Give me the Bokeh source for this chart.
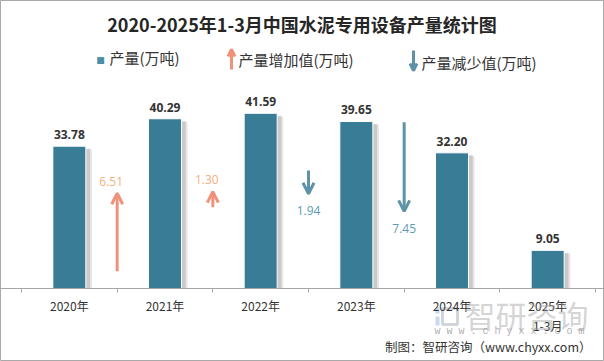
from bokeh.plotting import figure
from bokeh.models import Range1d, FixedTicker, ColumnDataSource, Label, Arrow, OpenHead
from bokeh.core.properties import value
from bokeh.embed import file_html
from bokeh.resources import INLINE

# ---------------- data ----------------
years = ["2020年", "2021年", "2022年", "2023年", "2024年", "2025年\n1-3月"]
output = [33.78, 40.29, 41.59, 39.65, 32.20, 9.05]          # 产量(万吨)
title_text = "2020-2025年1-3月中国水泥专用设备产量统计图"
legend_labels = ["产量(万吨)", "产量增加值(万吨)", "产量减少值(万吨)"]
source_note = "制图：智研咨询（www.chyxx.com）"
watermark_cn = "智研咨询"
watermark_en = "w w w . c h y x x . c o m"

# year-on-year change between the full years (2020-2024)
changes = [round(b - a, 2) for a, b in zip(output[:4], output[1:5])]

# ---------------- layout / style ----------------
W, H = 604, 361
AX_LEFT, AX_RIGHT, AX_Y = 21, 595, 288   # axis placement on the canvas (px)
PX_PER_UNIT = 4.213
BAR_COLOR = "#387c95"
UP_COLOR = "#f0917a"
UP_TEXT = "#f4b07c"
DOWN_COLOR = "#5e92a7"
DOWN_TEXT = "#5b9bb5"
ARROW_SCALE = 2.84                      # arrow length per unit of change
arrow_tip = [22.6, 23.0, 22.5, 18.3]    # where each arrow head sits

n = len(years)
centers = [i + 0.5 for i in range(n)]
band = (AX_RIGHT - AX_LEFT) / n
def X(px):  # canvas pixel -> data x
    return (px - AX_LEFT) / band
def Y(py):  # canvas pixel -> data y
    return (AX_Y - py) / PX_PER_UNIT

p = figure(width=W, height=H, output_backend="svg", toolbar_location=None,
           x_range=Range1d(X(0), X(W)), y_range=Range1d(Y(H), Y(0)),
           min_border=0)
p.outline_line_color = "#a9a9a9"
p.outline_line_width = 1
p.grid.visible = False
p.yaxis.visible = False
p.background_fill_color = "white"
p.border_fill_color = "white"

# watermark logo (behind everything)
p.quad(left=[X(435)], right=[X(439)], bottom=[Y(313)], top=[Y(307)],
       fill_color="#b9d0e8", line_color=None, fill_alpha=0.8)
p.quad(left=[X(435)], right=[X(439)], bottom=[Y(325)], top=[Y(316)],
       fill_color="#b9d0e8", line_color=None, fill_alpha=0.8)
p.quad(left=[X(442)], right=[X(457)], bottom=[Y(324)], top=[Y(308)],
       fill_color=None, line_color="#c5ccd4", line_width=3, line_alpha=0.8)

# x axis, fixed at zero inside the canvas
ax = p.xaxis[0]
ax.fixed_location = 0
ax.ticker = FixedTicker(ticks=centers, minor_ticks=list(range(n + 1)))
ax.major_label_overrides = {c: y for c, y in zip(centers, years)}
ax.major_tick_line_color = None
ax.major_tick_out = 0
ax.major_tick_in = 0
ax.minor_tick_line_color = "#a6a6a6"
ax.minor_tick_out = 4
ax.minor_tick_in = 0
ax.axis_line_color = "#a6a6a6"
ax.major_label_text_font = "Noto Sans CJK SC"
ax.major_label_text_font_size = "12px"
ax.major_label_text_color = "#333333"
ax.major_label_standoff = 4

# bars with soft shadow
src = ColumnDataSource(dict(
    x=centers, top=output,
    xs1=[c + 0.045 for c in centers], ts1=[v - 0.6 for v in output],
    xs2=[c + 0.065 for c in centers], ts2=[v - 0.8 for v in output],
    lbl=[f"{v:.2f}" for v in output]))
p.vbar(x="xs2", top="ts2", width=0.345, source=src, fill_color="#d9d9d9", line_color=None, fill_alpha=0.6)
p.vbar(x="xs1", top="ts1", width=0.345, source=src, fill_color="#bdbdbd", line_color=None, fill_alpha=0.7)
p.vbar(x="x", top="top", width=0.345, source=src, fill_color=BAR_COLOR, line_color="white", line_width=1)
p.text(x="x", y="top", text="lbl", source=src, text_align="center", text_baseline="bottom",
       y_offset=-7, text_font=value("Open Sans"), text_font_style="bold",
       text_font_size="12px", text_color="#333333")

# change arrows at category boundaries
for i, c in enumerate(changes):
    xb = i + 1
    tip = arrow_tip[i]
    up = c > 0
    start = tip - ARROW_SCALE * c if up else tip + ARROW_SCALE * abs(c)
    col = UP_COLOR if up else DOWN_COLOR
    asrc = ColumnDataSource(dict(x0=[xb], y0=[start], x1=[xb], y1=[tip]))
    p.add_layout(Arrow(x_start="x0", y_start="y0", x_end="x1", y_end="y1", source=asrc,
                       line_color=col, line_width=3,
                       end=OpenHead(size=11, line_color=col, line_width=3)))
    tsrc = ColumnDataSource(dict(x=[xb], y=[tip], t=[f"{abs(c):.2f}"]))
    p.text(x="x", y="y", text="t", source=tsrc, text_align="center", text_baseline="middle",
           x_offset=-6 if up else 0, y_offset=-12 if up else 17,
           text_font=value("Open Sans"), text_font_size="12px",
           text_color=UP_TEXT if up else DOWN_TEXT)

# title
p.add_layout(Label(x=X(301.5), y=Y(23), text=title_text, text_align="center", text_baseline="middle",
                   text_font="Noto Sans CJK SC", text_font_style="bold", text_font_size="18px",
                   text_color="#262626"))

# legend
p.add_layout(Label(x=X(100), y=Y(59), text="■", text_align="center", text_baseline="middle",
                   text_font="DejaVu Sans", text_font_size="9px", text_color="#4b8fa6"))
p.add_layout(Label(x=X(109), y=Y(57), text=legend_labels[0], text_align="left", text_baseline="middle",
                   text_font="Noto Sans CJK SC", text_font_size="15px", text_color="#333333"))
lu = ColumnDataSource(dict(x0=[X(231)], y0=[Y(69)], x1=[X(231)], y1=[Y(49)]))
p.add_layout(Arrow(x_start="x0", y_start="y0", x_end="x1", y_end="y1", source=lu,
                   line_color=UP_COLOR, line_width=3,
                   end=OpenHead(size=7, line_color=UP_COLOR, line_width=3)))
p.add_layout(Label(x=X(238), y=Y(59), text=legend_labels[1], text_align="left", text_baseline="middle",
                   text_font="Noto Sans CJK SC", text_font_size="15px", text_color="#333333"))
ld = ColumnDataSource(dict(x0=[X(413)], y0=[Y(50)], x1=[X(413)], y1=[Y(70)]))
p.add_layout(Arrow(x_start="x0", y_start="y0", x_end="x1", y_end="y1", source=ld,
                   line_color=DOWN_COLOR, line_width=3,
                   end=OpenHead(size=7, line_color=DOWN_COLOR, line_width=3)))
p.add_layout(Label(x=X(421), y=Y(62), text=legend_labels[2], text_align="left", text_baseline="middle",
                   text_font="Noto Sans CJK SC", text_font_size="15px", text_color="#333333"))

# watermark and source note
p.add_layout(Label(x=X(526), y=Y(314), text=watermark_cn, text_align="center", text_baseline="middle",
                   text_font="Noto Sans CJK SC", text_font_size="31px", text_color="#a0a0a0",
                   text_alpha=0.45))
p.add_layout(Label(x=X(509), y=Y(331), text=watermark_en, text_align="center", text_baseline="middle",
                   text_font="Liberation Mono", text_font_size="10px", text_color="#999999",
                   text_alpha=0.8))
p.add_layout(Label(x=X(591), y=Y(346), text=source_note, text_align="right", text_baseline="middle",
                   text_font="Noto Sans CJK SC", text_font_size="12.5px", text_color="#333333"))

open("out.html", "w").write(file_html(p, INLINE))
